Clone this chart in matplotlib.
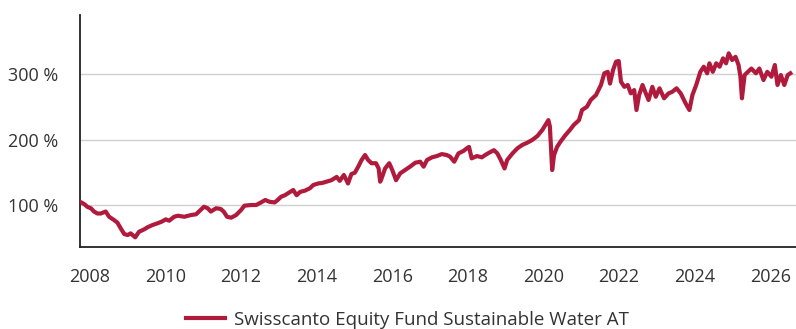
import matplotlib.pyplot as plt

plt.rcParams['font.family'] = ['Open Sans', 'DejaVu Sans']

# Wertentwicklung (indexiert, in %) nach Jahr
jahre = [
    2007.74, 2007.85, 2007.94, 2008.03, 2008.11, 2008.20, 2008.29, 2008.42, 2008.51, 2008.64,
    2008.73, 2008.82, 2008.91, 2009.00, 2009.08, 2009.20, 2009.30, 2009.44, 2009.53, 2009.66,
    2009.79, 2009.90, 2010.01, 2010.10, 2010.23, 2010.33, 2010.50, 2010.68, 2010.81, 2010.90,
    2011.02, 2011.12, 2011.20, 2011.34, 2011.46, 2011.54, 2011.63, 2011.74, 2011.87, 2012.00,
    2012.09, 2012.27, 2012.40, 2012.53, 2012.64, 2012.75, 2012.89, 2012.97, 2013.06, 2013.16,
    2013.27, 2013.38, 2013.47, 2013.56, 2013.69, 2013.82, 2013.91, 2014.04, 2014.16, 2014.26,
    2014.39, 2014.53, 2014.61, 2014.72, 2014.83, 2014.92, 2015.01, 2015.10, 2015.19, 2015.28,
    2015.36, 2015.45, 2015.57, 2015.64, 2015.68, 2015.72, 2015.81, 2015.92, 2016.00, 2016.10,
    2016.21, 2016.34, 2016.47, 2016.61, 2016.74, 2016.83, 2016.92, 2017.05, 2017.18, 2017.31,
    2017.44, 2017.53, 2017.64, 2017.75, 2017.89, 2017.97, 2018.03, 2018.10, 2018.24, 2018.37,
    2018.46, 2018.56, 2018.69, 2018.78, 2018.87, 2018.97, 2019.04, 2019.18, 2019.31, 2019.44,
    2019.57, 2019.70, 2019.84, 2019.97, 2020.13, 2020.17, 2020.23, 2020.28, 2020.36, 2020.45,
    2020.58, 2020.70, 2020.80, 2020.94, 2021.02, 2021.15, 2021.25, 2021.39, 2021.52, 2021.61,
    2021.70, 2021.76, 2021.84, 2021.92, 2021.99, 2022.05, 2022.14, 2022.23, 2022.31, 2022.40,
    2022.46, 2022.53, 2022.62, 2022.69, 2022.78, 2022.88, 2022.97, 2023.07, 2023.19, 2023.31,
    2023.41, 2023.52, 2023.63, 2023.76, 2023.86, 2023.94, 2024.04, 2024.15, 2024.24, 2024.33,
    2024.39, 2024.48, 2024.57, 2024.66, 2024.75, 2024.83, 2024.90, 2024.99, 2025.08, 2025.16,
    2025.21, 2025.25, 2025.32, 2025.41, 2025.50, 2025.62, 2025.71, 2025.82, 2025.92, 2026.03,
    2026.12, 2026.19, 2026.28, 2026.37, 2026.46, 2026.53,
]
werte = [
    105.0, 101.5, 97.0, 95.0, 90.0, 87.0, 87.0, 90.0, 82.0, 77.0,
    73.0, 64.0, 55.6, 54.0, 56.6, 50.5, 59.0, 62.8, 66.0, 69.4,
    72.0, 74.5, 78.0, 76.0, 82.0, 83.6, 82.0, 84.7, 85.8, 90.8,
    97.4, 95.0, 90.0, 95.0, 94.0, 90.0, 82.0, 80.6, 84.7, 92.3,
    99.0, 100.0, 100.0, 104.0, 107.7, 105.0, 104.0, 107.7, 112.7, 115.0,
    119.0, 123.0, 115.0, 120.0, 122.0, 125.6, 130.6, 133.0, 134.0, 135.7,
    138.0, 143.0, 137.0, 146.0, 133.0, 147.5, 149.5, 158.7, 169.0, 176.6,
    169.0, 164.0, 164.0, 156.0, 135.7, 141.0, 156.0, 164.0, 153.6, 138.0,
    148.5, 153.6, 158.7, 164.8, 166.3, 158.7, 169.0, 173.0, 175.0, 178.0,
    176.6, 174.0, 166.3, 179.0, 183.0, 186.8, 189.0, 171.5, 175.0, 173.0,
    176.6, 180.0, 184.0, 179.0, 169.0, 156.0, 169.0, 179.0, 186.8, 192.0,
    195.4, 199.5, 205.7, 215.0, 230.0, 220.0, 153.6, 176.6, 189.0, 197.0,
    207.0, 215.0, 222.5, 230.0, 245.5, 250.5, 260.8, 268.5, 283.8, 301.7,
    304.0, 286.0, 306.7, 319.5, 320.5, 288.8, 281.0, 283.8, 271.0, 276.0,
    245.5, 268.5, 283.8, 273.5, 260.8, 281.0, 265.8, 278.7, 263.4, 271.0,
    273.5, 278.7, 271.0, 255.7, 245.5, 268.5, 283.8, 304.0, 311.8, 301.7,
    317.0, 304.0, 317.0, 311.8, 324.6, 317.0, 332.3, 322.0, 327.0, 314.4,
    296.5, 263.4, 299.0, 304.0, 309.0, 301.7, 309.0, 291.4, 304.0, 296.5,
    314.4, 283.8, 299.0, 283.8, 299.0, 301.7,
]

fonds = 'Swisscanto Equity Fund Sustainable Water AT'
x_ticks = [2008, 2010, 2012, 2014, 2016, 2018, 2020, 2022, 2024, 2026]
y_ticks = [100, 200, 300]

text_farbe = '#333333'
linien_farbe = '#b01b3d'

fig = plt.figure(figsize=(7.96, 3.29), dpi=100)
ax = fig.add_axes([80 / 796, 1 - 247 / 329, 1 - 80 / 796, (247 - 15) / 329])

ax.plot(jahre, werte, color=linien_farbe, linewidth=3.0, solid_joinstyle='round',
        label=fonds, zorder=3)

ax.set_xlim(2007.74, 2026.68)
ax.set_ylim(35.7, 391)
ax.set_xticks(x_ticks)
ax.set_xticklabels([str(j) for j in x_ticks])
ax.set_yticks(y_ticks)
ax.set_yticklabels([f'{v} %' for v in y_ticks])

ax.grid(axis='y', color='#d0d0d0', linewidth=1.0)
ax.set_axisbelow(True)
ax.tick_params(length=0, labelsize=13, colors=text_farbe)
ax.tick_params(axis='x', pad=15)
ax.tick_params(axis='y', pad=16)

for s in ['top', 'right']:
    ax.spines[s].set_visible(False)
for s in ['left', 'bottom']:
    ax.spines[s].set_color('#222222')
    ax.spines[s].set_linewidth(1.3)

fig.legend(loc='center', bbox_to_anchor=(407.5 / 796, 1 - 320 / 329), frameon=False,
           fontsize=13.5, labelcolor=text_farbe, handlelength=2.1, handletextpad=0.45)

fig.savefig('out.png', dpi=100)
